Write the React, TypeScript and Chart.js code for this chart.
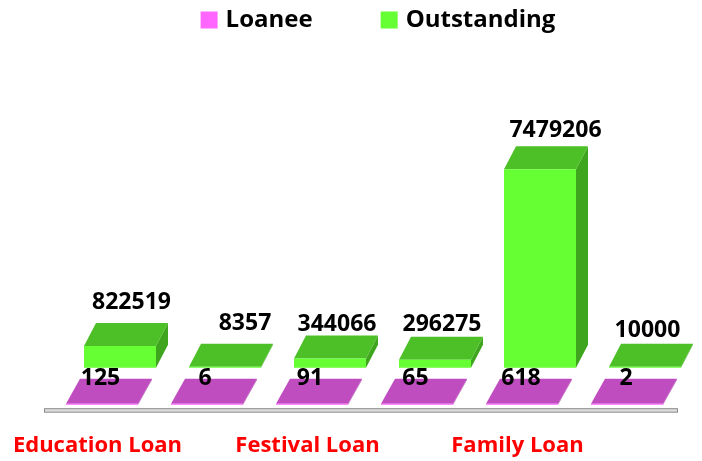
import React, { useEffect, useRef } from "react";
import { Chart, registerables } from "chart.js";

Chart.register(...registerables);

const categories = ["Education Loan", "", "Festival Loan", "", "Family Loan", ""];
const loanee = [125, 6, 91, 65, 618, 2];
const outstanding = [822519, 8357, 344066, 296275, 7479206, 10000];

const FONT = "'Open Sans', Lato, sans-serif";
const labelFont = `bold 23px ${FONT}`;

// dataset index -> how the 3D drawing is placed and coloured
const look: any = {
  0: { shiftX: 4.5, shiftY: -5.5, depthX: 14, depthY: -25, top: "#C04DC0", side: "#A63FA6",
       labelDx: [3, 2.5, 2.5, 3, 3.5, 3.5], labelUp: [0.5, 0.5, 0.5, 0.5, 0.5, 0.5] },
  1: { shiftX: 22.5, shiftY: -42.5, depthX: 12, depthY: -23, top: "#4DC028", side: "#3FA51F",
       labelDx: [34, 42.5, 29.5, 29.5, 38, 25], labelUp: [20.5, 20.5, 11.5, 12.5, 15.5, 13.5] },
};

const depthPlugin = {
  id: "depth3d",
  afterLayout(chart: any) {
    const l = chart.legend;
    l.left += 20; l.right += 20; l.top -= 156; l.bottom -= 156;
  },
  beforeDatasetsDraw(chart: any) {
    const { ctx, chartArea: a } = chart;
    ctx.save();
    ctx.fillStyle = "#DCDCDC";
    ctx.strokeStyle = "#8C8C8C";
    ctx.lineWidth = 1;
    ctx.fillRect(a.left - 0.5, a.bottom - 1.5, a.width + 3, 3.5);
    ctx.strokeRect(a.left - 0.5, a.bottom - 1.5, a.width + 3, 3.5);
    ctx.restore();
  },
  beforeDatasetDraw(chart: any, args: any) {
    const { ctx } = chart;
    const s = look[args.index];
    ctx.save();
    ctx.translate(s.shiftX, s.shiftY);
    args.meta.data.forEach((el: any) => {
      const { x, y, base, width } = el.getProps(["x", "y", "base", "width"], true);
      const l = x - width / 2, r = x + width / 2;
      ctx.fillStyle = s.side;
      ctx.beginPath();
      ctx.moveTo(r, y); ctx.lineTo(r + s.depthX, y + s.depthY);
      ctx.lineTo(r + s.depthX, base + s.depthY); ctx.lineTo(r, base);
      ctx.closePath(); ctx.fill();
      ctx.fillStyle = s.top;
      ctx.beginPath();
      ctx.moveTo(l, y); ctx.lineTo(l + s.depthX, y + s.depthY);
      ctx.lineTo(r + s.depthX, y + s.depthY); ctx.lineTo(r, y);
      ctx.closePath(); ctx.fill();
    });
  },
  afterDatasetDraw(chart: any) {
    chart.ctx.restore();
  },
  afterDatasetsDraw(chart: any) {
    const { ctx } = chart;
    ctx.save();
    ctx.font = labelFont;
    ctx.fillStyle = "#000";
    ctx.textAlign = "center";
    ctx.textBaseline = "middle";
    chart.data.datasets.forEach((ds: any, i: number) => {
      const s = look[i];
      chart.getDatasetMeta(i).data.forEach((el: any, j: number) => {
        const { x, y } = el.getProps(["x", "y"], true);
        ctx.fillText(String(ds.data[j]), x + s.labelDx[j], y + s.shiftY + s.depthY - s.labelUp[j]);
      });
    });
    ctx.restore();
  },
};

export default function App() {
  const ref = useRef<HTMLCanvasElement>(null);
  useEffect(() => {
    const chart = new Chart(ref.current as HTMLCanvasElement, {
      type: "bar",
      data: {
        labels: categories,
        datasets: [
          { label: "Loanee", data: loanee, backgroundColor: "#FF66FF", minBarLength: 1, clip: false },
          { label: "Outstanding", data: outstanding, backgroundColor: "#66FF33", minBarLength: 1, clip: false },
        ] as any,
      },
      options: {
        responsive: false,
        animation: false,
        grouped: false,
        categoryPercentage: 1,
        barPercentage: 72 / 105,
        layout: { padding: { left: 45, right: 27, top: 92, bottom: -19.6 } },
        plugins: {
          tooltip: { enabled: false },
          legend: {
            position: "top",
            labels: {
              boxWidth: 9,
              boxHeight: 9,
              padding: 72,
              color: "#000",
              font: { family: FONT, size: 24, weight: "bold" },
              generateLabels: (c: any) =>
                c.data.datasets.map((d: any, i: number) => ({
                  text: d.label,
                  fillStyle: d.backgroundColor,
                  strokeStyle: d.backgroundColor,
                  lineWidth: 8,
                  datasetIndex: i,
                })),
            },
          },
        },
        scales: {
          x: {
            afterFit: (s: any) => { s.paddingLeft = 0; s.paddingRight = 0; },
            grid: { display: false, drawTicks: false },
            border: { display: false },
            ticks: {
              autoSkip: false,
              maxRotation: 0,
              minRotation: 0,
              padding: 22,
              color: "#FF0000",
              font: { family: FONT, size: 22, weight: "bold" },
            },
          },
          y: { display: false, min: 0, max: 8000000 },
        },
      } as any,
      plugins: [depthPlugin],
    });
    return () => chart.destroy();
  }, []);
  return (
    <div style={{ position: "absolute", left: 0, top: 0, width: 702, height: 461, background: "#fff" }}>
      <canvas ref={ref} width={702} height={461} style={{ display: "block" }} />
    </div>
  );
}
